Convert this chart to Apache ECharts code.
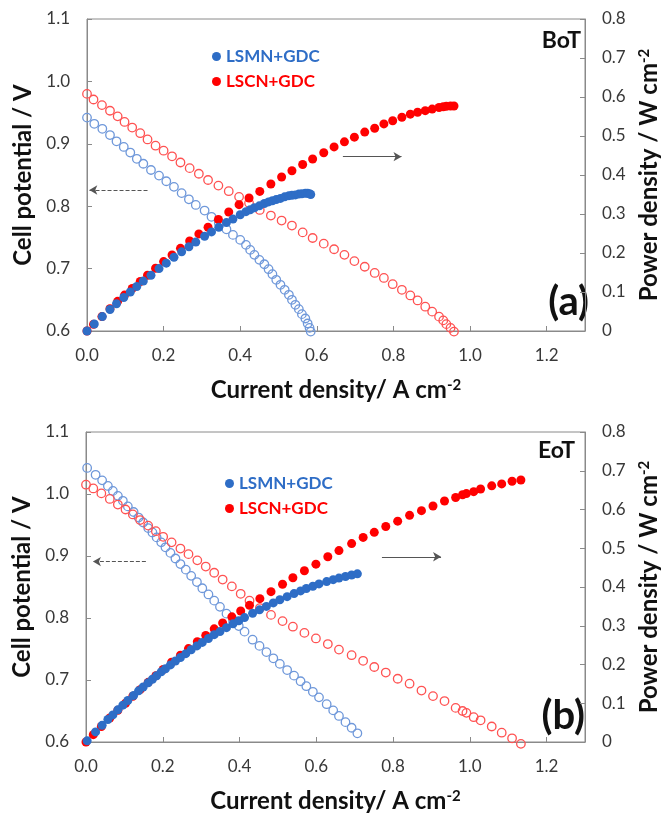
<!DOCTYPE html>
<html>
<head>
<meta charset="utf-8">
<script src="https://cdn.jsdelivr.net/npm/echarts@6/dist/echarts.min.js"></script>
<style>
html,body{margin:0;padding:0;background:#fff;}
#chart{width:669px;height:814px;}
</style>
</head>
<body>
<div id="chart"></div>
<script>
// ---------- DATA ----------
// (a) BoT
const botCurrentLSMN = [0.000,0.019,0.040,0.060,0.077,0.096,0.113,0.130,0.147,0.167,0.188,0.207,0.227,0.247,0.266,0.284,0.307,0.325,0.344,0.364,0.381,0.400,0.415,0.426,0.437,0.450,0.463,0.474,0.484,0.494,0.505,0.516,0.527,0.535,0.544,0.553,0.561,0.570,0.576,0.581,0.584];
const botVoltLSMN = [0.942,0.932,0.924,0.914,0.904,0.895,0.886,0.876,0.868,0.858,0.849,0.840,0.831,0.821,0.811,0.802,0.793,0.783,0.773,0.763,0.754,0.746,0.738,0.730,0.722,0.714,0.707,0.699,0.691,0.682,0.674,0.666,0.658,0.650,0.642,0.635,0.627,0.620,0.612,0.605,0.599];
const botPowerLSMN = [0.000,0.018,0.037,0.055,0.070,0.086,0.100,0.114,0.128,0.143,0.160,0.174,0.189,0.203,0.216,0.228,0.243,0.254,0.266,0.278,0.287,0.298,0.306,0.311,0.316,0.321,0.327,0.331,0.334,0.337,0.340,0.344,0.347,0.348,0.349,0.351,0.352,0.353,0.353,0.352,0.350];

const botCurrentLSCN = [0.000,0.017,0.039,0.060,0.080,0.098,0.118,0.139,0.158,0.179,0.200,0.222,0.244,0.268,0.292,0.316,0.343,0.370,0.397,0.423,0.451,0.480,0.508,0.535,0.563,0.589,0.618,0.645,0.672,0.698,0.725,0.751,0.775,0.798,0.822,0.844,0.863,0.883,0.901,0.919,0.930,0.938,0.949,0.958];
const botVoltLSCN = [0.980,0.971,0.962,0.953,0.944,0.935,0.926,0.917,0.907,0.897,0.889,0.880,0.870,0.861,0.852,0.842,0.833,0.824,0.815,0.805,0.794,0.785,0.777,0.769,0.758,0.749,0.740,0.731,0.722,0.712,0.703,0.693,0.685,0.675,0.666,0.657,0.649,0.639,0.631,0.623,0.617,0.611,0.605,0.599];
const botPowerLSCN = [0.000,0.017,0.037,0.057,0.076,0.092,0.109,0.127,0.143,0.161,0.178,0.195,0.212,0.231,0.249,0.266,0.286,0.305,0.324,0.341,0.358,0.377,0.395,0.411,0.427,0.441,0.457,0.472,0.485,0.497,0.510,0.520,0.531,0.539,0.548,0.556,0.561,0.565,0.569,0.573,0.575,0.576,0.577,0.577];

// (b) EoT
const eotCurrentLSMN = [0.003,0.025,0.042,0.057,0.070,0.083,0.096,0.109,0.124,0.137,0.149,0.162,0.173,0.184,0.196,0.207,0.220,0.233,0.246,0.260,0.274,0.289,0.303,0.319,0.334,0.349,0.366,0.383,0.398,0.413,0.434,0.452,0.470,0.488,0.505,0.524,0.542,0.559,0.574,0.591,0.607,0.627,0.644,0.659,0.676,0.692,0.707];
const eotVoltLSMN = [1.042,1.031,1.022,1.013,1.005,0.997,0.989,0.980,0.971,0.962,0.954,0.945,0.938,0.930,0.922,0.914,0.905,0.896,0.887,0.878,0.868,0.858,0.848,0.838,0.828,0.818,0.807,0.796,0.787,0.778,0.765,0.755,0.745,0.735,0.726,0.716,0.707,0.698,0.690,0.681,0.672,0.661,0.651,0.642,0.632,0.623,0.614];
const eotPowerLSMN = [0.003,0.026,0.043,0.058,0.070,0.083,0.095,0.107,0.120,0.132,0.142,0.153,0.162,0.171,0.181,0.189,0.199,0.209,0.218,0.228,0.238,0.248,0.257,0.267,0.277,0.285,0.295,0.305,0.313,0.321,0.332,0.341,0.350,0.359,0.367,0.375,0.383,0.390,0.396,0.402,0.408,0.414,0.419,0.423,0.427,0.431,0.434];

const eotCurrentLSCN = [0.000,0.019,0.040,0.062,0.083,0.103,0.122,0.141,0.162,0.182,0.201,0.223,0.246,0.267,0.290,0.312,0.334,0.356,0.380,0.403,0.426,0.453,0.482,0.512,0.539,0.569,0.599,0.630,0.659,0.692,0.722,0.751,0.781,0.812,0.843,0.874,0.904,0.934,0.963,0.981,0.991,1.010,1.028,1.057,1.083,1.110,1.133];
const eotVoltLSCN = [1.015,1.009,1.001,0.992,0.983,0.975,0.967,0.958,0.949,0.940,0.931,0.922,0.912,0.903,0.893,0.883,0.873,0.862,0.851,0.839,0.828,0.816,0.805,0.795,0.786,0.776,0.767,0.758,0.749,0.740,0.731,0.721,0.712,0.702,0.694,0.683,0.674,0.666,0.655,0.650,0.647,0.640,0.635,0.625,0.615,0.606,0.597];
const eotPowerLSCN = [0.000,0.019,0.040,0.062,0.082,0.100,0.118,0.135,0.154,0.171,0.187,0.206,0.224,0.241,0.259,0.275,0.292,0.307,0.323,0.338,0.353,0.370,0.388,0.407,0.424,0.442,0.459,0.478,0.494,0.512,0.528,0.541,0.556,0.570,0.585,0.597,0.609,0.622,0.631,0.638,0.641,0.646,0.653,0.661,0.666,0.673,0.676];

// Axis ticks / names
const xTicks = {min: 0, max: 1.3, interval: 0.2};
const vTicks = {min: 0.6, max: 1.1, interval: 0.1};
const pTicks = {min: 0, max: 0.8, interval: 0.1};
const seriesNames = ['LSMN+GDC', 'LSCN+GDC'];
const panelTags = ['BoT', 'EoT'];
const panelLetters = ['(a)', '(b)'];

// ---------- STYLE ----------
const FONT = 'Lato, "Open Sans", sans-serif';
const AX = '#8a8a8a';
const LBL = '#383838';
const BLUE = '#2E6DC6';
const BLUE_L = '#6F98DA';
const RED = '#FF0000';
const RED_L = '#FF5252';

const zip = (a, b) => a.map((v, i) => [v, b[i]]);

const grids = [
  {left: 87, top: 19, width: 505, height: 312},
  {left: 86, top: 432, width: 505, height: 310}
];

function xAxisFor(i) {
  return {
    gridIndex: i, type: 'value', min: xTicks.min, max: xTicks.max, interval: xTicks.interval,
    axisLine: {lineStyle: {color: AX, width: 1}},
    axisTick: {inside: true, length: 5, lineStyle: {color: AX}},
    axisLabel: {showMaxLabel: false, margin: 16, fontSize: 17, color: LBL, fontFamily: FONT,
      formatter: v => v.toFixed(1)},
    splitLine: {show: false},
    name: 'Current density/ A cm{sup|-2}', nameLocation: 'middle', nameGap: 47,
    nameTextStyle: {fontSize: 24, fontWeight: 'bold', color: '#111', fontFamily: FONT,
      rich: {sup: {fontSize: 15, fontWeight: 'bold', color: '#111', fontFamily: FONT, verticalAlign: 'top'}}}
  };
}
function vAxisFor(i) {
  return {
    gridIndex: i, type: 'value', position: 'left', min: vTicks.min, max: vTicks.max, interval: vTicks.interval,
    axisLine: {show: true, lineStyle: {color: AX, width: 1}},
    axisTick: {show: true, inside: true, length: 5, lineStyle: {color: AX}},
    axisLabel: {margin: 17, fontSize: 17, color: LBL, fontFamily: FONT, formatter: v => v.toFixed(1)},
    splitLine: {show: false},
    name: 'Cell potential / V', nameLocation: 'middle', nameRotate: 90, nameGap: 50,
    nameTextStyle: {fontSize: 24, fontWeight: 'bold', color: '#111', fontFamily: FONT}
  };
}
function pAxisFor(i) {
  return {
    gridIndex: i, type: 'value', position: 'right', min: pTicks.min, max: pTicks.max, interval: pTicks.interval,
    axisLine: {show: true, lineStyle: {color: AX, width: 1}},
    axisTick: {show: true, inside: true, length: 5, lineStyle: {color: AX}},
    axisLabel: {margin: 17, fontSize: 17, color: LBL, fontFamily: FONT,
      formatter: v => (Math.round(v * 10) / 10).toString()},
    splitLine: {show: false},
    name: 'Power density / W cm{sup|-2}', nameLocation: 'middle', nameRotate: 90, nameGap: 52,
    nameTextStyle: {fontSize: 24, fontWeight: 'bold', color: '#111', fontFamily: FONT,
      rich: {sup: {fontSize: 15, fontWeight: 'bold', color: '#111', fontFamily: FONT, verticalAlign: 'top'}}}
  };
}

const hollow = (color) => ({color: 'rgba(255,255,255,0)', borderColor: color, borderWidth: 1.3, opacity: 1});
const arrowStyle = (dashed) => ({
  silent: true, symbol: ['none', 'arrow'], symbolSize: [7, 8], label: {show: false},
  lineStyle: {color: '#555', width: 1, type: dashed ? [4, 2] : 'solid'}, emphasis: {disabled: true}
});

function panelSeries(i, curM, vM, pM, curC, vC, pC, leftArrow, rightArrow) {
  const xi = i, yV = i * 2, yP = i * 2 + 1;
  return [
    {name: seriesNames[0] + ' V' + i, type: 'scatter', xAxisIndex: xi, yAxisIndex: yV, symbol: 'circle', symbolSize: 8.5,
     clip: false, itemStyle: hollow(BLUE_L), data: zip(curM, vM), z: 2,
     markLine: Object.assign(arrowStyle(true), {data: [leftArrow]})},
    {name: seriesNames[1] + ' V' + i, type: 'scatter', xAxisIndex: xi, yAxisIndex: yV, symbol: 'circle', symbolSize: 8.5,
     clip: false, itemStyle: hollow(RED_L), data: zip(curC, vC), z: 2},
    {name: seriesNames[1], type: 'scatter', xAxisIndex: xi, yAxisIndex: yP, symbol: 'circle', symbolSize: 9,
     clip: false, itemStyle: {color: RED, opacity: 1}, data: zip(curC, pC), z: 3,
     markLine: Object.assign(arrowStyle(false), {data: [rightArrow]})},
    {name: seriesNames[0], type: 'scatter', xAxisIndex: xi, yAxisIndex: yP, symbol: 'circle', symbolSize: 9,
     clip: false, itemStyle: {color: BLUE, opacity: 1}, data: zip(curM, pM), z: 4}
  ];
}

const series = [].concat(
  panelSeries(0, botCurrentLSMN, botVoltLSMN, botPowerLSMN, botCurrentLSCN, botVoltLSCN, botPowerLSCN,
    [{coord: [0.158, 0.826]}, {coord: [0.006, 0.826]}],
    [{coord: [0.668, 0.447]}, {coord: [0.821, 0.447]}]),
  panelSeries(1, eotCurrentLSMN, eotVoltLSMN, eotPowerLSMN, eotCurrentLSCN, eotVoltLSCN, eotPowerLSCN,
    [{coord: [0.156, 0.891]}, {coord: [0.018, 0.891]}],
    [{coord: [0.771, 0.478]}, {coord: [0.925, 0.478]}])
);

const legendFor = (left, top) => ({
  left: left, top: top, orient: 'vertical', itemWidth: 9, itemHeight: 9, itemGap: 8, icon: 'circle',
  selectedMode: false,
  textStyle: {fontSize: 17, fontWeight: 'bold', fontFamily: FONT},
  data: [
    {name: seriesNames[0], textStyle: {color: BLUE}},
    {name: seriesNames[1], textStyle: {color: RED}}
  ]
});

const tagText = (right, top, text, size) => ({
  type: 'text', right: right, top: top,
  style: {text: text, fontSize: size, fontWeight: 'bold', fill: '#111', fontFamily: FONT}
});

const option = {
  animation: false,
  backgroundColor: '#fff',
  grid: grids.map(g => Object.assign({show: true, borderColor: AX, borderWidth: 1}, g)),
  xAxis: [xAxisFor(0), xAxisFor(1)],
  yAxis: [vAxisFor(0), pAxisFor(0), vAxisFor(1), pAxisFor(1)],
  legend: [legendFor(207, 43), legendFor(220, 470)],
  series: series,
  graphic: [
    tagText(88, 29, panelTags[0], 23),
    tagText(94, 439, panelTags[1], 23),
    tagText(80, 282, panelLetters[0], 40),
    tagText(84, 696, panelLetters[1], 40)
  ]
};

const chart = echarts.init(document.getElementById('chart'), null, {renderer: 'canvas'});
chart.setOption(option);
</script>
</body>
</html>
